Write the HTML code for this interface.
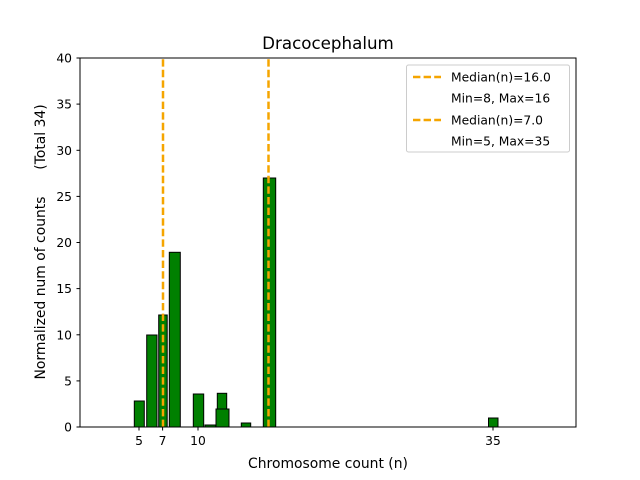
<!DOCTYPE html>
<html><head><meta charset="utf-8"><style>body{margin:0;background:#fff}svg{display:block}</style></head><body>
<svg width="640" height="480" xmlns="http://www.w3.org/2000/svg" font-family="'DejaVu Sans','Liberation Sans',sans-serif">
<rect width="640" height="480" fill="#fff"/>
<g fill="#008000" stroke="#000" stroke-width="1">
<line x1="84" y1="427" x2="310" y2="427" stroke="#000"/>
<rect x="134.3" y="401" width="10" height="26"/>
<rect x="146.7" y="335" width="10.3" height="92"/>
<rect x="158.7" y="315" width="8.5" height="112"/>
<rect x="169.3" y="252.3" width="11" height="174.7"/>
<rect x="193.3" y="394" width="10.4" height="33"/>
<rect x="205" y="425" width="10.7" height="2"/>
<rect x="217.3" y="393.3" width="9.4" height="33.7"/>
<rect x="216" y="409" width="13" height="18"/>
<rect x="241.3" y="423" width="9.4" height="4"/>
<rect x="263.3" y="178" width="12.4" height="249"/>
<rect x="488.5" y="418" width="9.5" height="9"/>
</g>
<g stroke="#f5a500" stroke-width="2.5" stroke-dasharray="7.4,3.2">
<line x1="163" y1="427" x2="163" y2="58"/>
<line x1="268.5" y1="427" x2="268.5" y2="58"/>
</g>
<rect x="80" y="58" width="496" height="369" fill="none" stroke="#000" stroke-width="1"/>
<g stroke="#000">
<line x1="80" y1="427" x2="76.5" y2="427"/><line x1="80" y1="380.9" x2="76.5" y2="380.9"/><line x1="80" y1="334.8" x2="76.5" y2="334.8"/><line x1="80" y1="288.6" x2="76.5" y2="288.6"/><line x1="80" y1="242.5" x2="76.5" y2="242.5"/><line x1="80" y1="196.4" x2="76.5" y2="196.4"/><line x1="80" y1="150.3" x2="76.5" y2="150.3"/><line x1="80" y1="104.1" x2="76.5" y2="104.1"/><line x1="80" y1="58" x2="76.5" y2="58"/>
<line x1="139" y1="427" x2="139" y2="430.5"/><line x1="162.6" y1="427" x2="162.6" y2="430.5"/><line x1="198" y1="427" x2="198" y2="430.5"/><line x1="493" y1="427" x2="493" y2="430.5"/>
</g>
<g font-size="12.3" fill="#000" text-anchor="end">
<text x="72" y="431.5">0</text><text x="72" y="385.5">5</text><text x="72" y="339.5">10</text><text x="72" y="293">15</text><text x="72" y="247">20</text><text x="72" y="201">25</text><text x="72" y="155">30</text><text x="72" y="108.5">35</text><text x="72" y="62.5">40</text>
</g>
<g font-size="12.3" fill="#000" text-anchor="middle">
<text x="139" y="445">5</text><text x="162.6" y="445">7</text><text x="198" y="445">10</text><text x="493" y="445">35</text>
</g>
<g font-size="13.9" fill="#000" text-anchor="middle">
<text x="328" y="468">Chromosome count (n)</text>
<text x="328" y="49" font-size="16.7">Dracocephalum</text>
<text transform="translate(45,288) rotate(-90)">Normalized num of counts</text>
<text transform="translate(45,137) rotate(-90)">(Total 34)</text>
</g>
<rect x="406.5" y="65" width="163" height="87" rx="2" fill="#fff" stroke="#ccc"/>
<g stroke="#f5a500" stroke-width="2.5" stroke-dasharray="7.4,3.2"><line x1="413" y1="77" x2="441" y2="77"/><line x1="413" y1="120" x2="441" y2="120"/></g>
<g font-size="12.3" fill="#000">
<text x="451" y="81.5">Median(n)=16.0</text><text x="451" y="102.5">Min=8, Max=16</text><text x="451" y="124.5">Median(n)=7.0</text><text x="451" y="145.5">Min=5, Max=35</text>
</g>
</svg>
</body></html>
